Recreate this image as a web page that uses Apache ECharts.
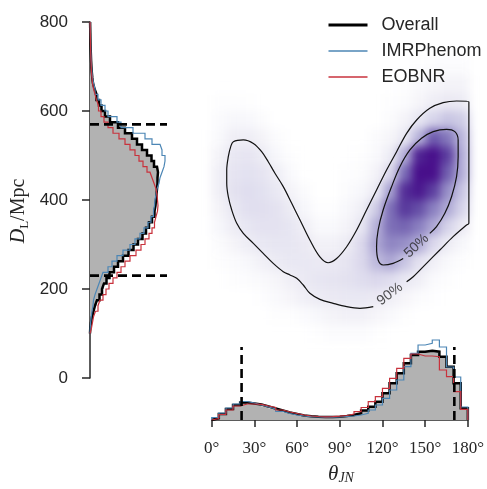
<!DOCTYPE html>
<html><head><meta charset="utf-8">
<script src="https://cdn.jsdelivr.net/npm/echarts@6/dist/echarts.min.js"></script>
<style>
html,body{margin:0;padding:0;background:#fff;}
#wrap{position:relative;width:487px;height:489px;overflow:hidden;}
#bg,#main{position:absolute;left:0;top:0;width:487px;height:489px;}
#bg{filter:blur(5px);}
</style></head><body>
<div id="wrap"><div id="bg"></div><div id="main"></div></div>
<script>
// ---------------- data ----------------
const legendNames = ['Overall', 'IMRPhenom', 'EOBNR'];
const distTicks = [0, 200, 400, 600, 800];
const thetaTicks = [0, 30, 60, 90, 120, 150, 180];

// luminosity distance histogram (bins of 12.5 Mpc from 100 to 800 Mpc)
const distBinEdges = Array.from({length: 57}, (_, i) => 100 + 12.5 * i);
const distOverall = [0.3,1,2,3.5,5,7,9.5,12,14,16.5, 19.5,24,28,33,38.5,43.5,48,52.5,56,59,
  62,64.5,65.5,66,66.5,67,67.5,67.5,68,67, 64,61.5,57,52,47,42,35,28,20,15,
  11.5,9,6.5,4.5, 3,2.3,1.8,1.4,1.1,0.9,0.7,0.5,0.4,0.3,0.2,0.1];
const distIMR = [0.2,0.6,1.2,2,3,3.5,5,7,9,11, 13,18,22,27,33,40,45,50,54,58,
  61,63.5,64.5,65,66,67,69,70,72,74, 75,75,72,70,62,55,43,31,27,18,
  15,11,8,5, 3.5,2.5,2,1.5,1.2,1,0.8,0.6,0.5,0.4,0.3,0.2];
const distEOB = [1.5,2.5,3.5,5.5,8,10,13,16,19,23, 27,31,35,40,46,51,55,59,62,64.5,
  66,67.5,68,67.5,67,66,64,62,60,57, 53,49,45,40,35,29,23,18,14,11,
  8.5,6.5,5,3.5, 2.5,2,1.5,1.2,1,0.8,0.6,0.5,0.4,0.3,0.2,0.1];
const distInterval = [230, 570];

// inclination histogram (bins of 5 degrees)
const thetaBinEdges = Array.from({length: 37}, (_, i) => 5 * i);
const thetaOverall = [1.7,6,11,15,17.5,16.5,15.5,13.5,11.5,9.5,7.5,6,4.5,3.8,3.3,3,3,3.3,
  4,5,6.7,9.5,13.3,18.3,26.7,36.7,46.7,56.7,65,68.3,69.3,68.3,63.3,53.3,36.7,11.7];
const thetaIMR = [2.5,7,12,16,18.5,17,15,13,11,8.5,6.5,5,4,3.3,3,2.8,2.8,3,
  3.5,4,5,6.7,10,15,21.7,30,40,53.3,66.7,75,76.7,80,73,53,43,13];
const thetaEOB = [1.5,5.5,10,14,16,16,15.7,14,12.5,10,8,6.5,5,4,3.5,3.2,3.3,3.8,
  4.5,6,8.3,12.5,18.3,23.3,31.7,41.7,51.7,61.7,66,64,64,63.3,50,43.3,28.3,10.7];
const thetaInterval = [21, 170.5];

// credible-region contours [theta, D]
const contour90 = [[112.9,160.2],[103.6,156.6],[94.3,160.2],[84.9,167.8],[75.6,176.8],[68.6,190.3],
  [64,209],[59.4,224],[54.7,231.5],[50,239],[43,257.7],[36,280],[29.1,302.7],[22.1,325],[17.5,347.6],
  [14,377.5],[11.6,407.4],[10.5,437.5],[10.5,467.4],[11.6,497.3],[13.3,520],[15.1,531],[22.1,535],
  [29.1,527],[34.9,508.6],[39.5,486],[44.2,460],[50,430],[55.9,392.6],[61.7,355],[68.6,310],[75.6,272],
  [81.4,259],[87.3,268.5],[94.3,295],[101.3,332.6],[108.2,377.5],[115.2,422.5],[122.2,467.4],
  [129.2,508.6],[136.2,549.8],[143.2,579.8],[152.4,606],[161.7,618.7],[171.1,622.5],[179.7,621],
  [179.7,347.6],[178.1,343.8],[168.7,317.6],[159.4,287.6],[150.1,257.7],[140.8,227.6],[136.2,216.4]];
const contour50 = [[133.8,268.5],[126.8,257.7],[119.8,253.9],[116.3,265.2],[115.2,295],[116.3,332.6],
  [119.8,377.5],[125.7,430],[131.5,474.8],[138.5,512.4],[146.6,538.6],[154.8,553.6],[164.1,558.8],
  [169.9,553.6],[172.2,534.8],[172.2,497.3],[171.1,452.4],[167.6,407.4],[162.9,370],[157.1,340],[152.4,325]];
const contourLabels = [
  {text: '90%', theta: 124.5, dist: 188.3, angle: 37},
  {text: '50%', theta: 143.1, dist: 296.8, angle: 43}
];

// 2D density (relative), columns = theta centres, rows = distance centres (top to bottom)
const densityTheta = [5,15,25,35,45,55,65,75,85,95,105,115,125,135,145,155,165,175];
const densityDist = [780,740,700,660,620,580,540,500,460,420,380,340,300,260,220,180,140,100,60,20];
const density = [
  [0,0,0,0,0,0,0,0,0,0,0,0,0,0,0,0,0,0],
  [0,0,0,0,0,0,0,0,0,0,0,0,0,0,0,0,0,0],
  [0,0,0,0,0,0,0,0,0,0,0,0,0,0,0.01,0.02,0.02,0.02],
  [0,0,0,0,0,0,0,0,0,0,0,0,0,0.01,0.03,0.05,0.06,0.06],
  [0.01,0.01,0.01,0,0,0,0,0,0,0,0,0,0.01,0.02,0.05,0.09,0.11,0.1],
  [0.02,0.04,0.04,0.02,0,0,0,0,0,0,0,0,0.02,0.06,0.13,0.22,0.28,0.25],
  [0.03,0.08,0.09,0.06,0.02,0,0,0,0,0,0,0.02,0.05,0.12,0.34,0.62,0.52,0.33],
  [0.06,0.12,0.14,0.1,0.04,0.01,0,0,0,0,0.01,0.03,0.09,0.36,0.8,1.0,0.7,0.36],
  [0.08,0.14,0.16,0.14,0.09,0.03,0,0,0,0.01,0.02,0.06,0.2,0.56,0.93,0.9,0.6,0.36],
  [0.08,0.15,0.18,0.16,0.12,0.06,0.02,0,0,0.02,0.04,0.1,0.4,0.76,0.85,0.7,0.45,0.28],
  [0.06,0.12,0.17,0.17,0.15,0.1,0.04,0.01,0.01,0.04,0.08,0.25,0.55,0.72,0.65,0.5,0.37,0.22],
  [0.04,0.09,0.13,0.15,0.15,0.13,0.08,0.03,0.03,0.06,0.13,0.35,0.55,0.58,0.5,0.38,0.22,0.11],
  [0.02,0.05,0.09,0.12,0.13,0.13,0.11,0.07,0.07,0.1,0.2,0.38,0.48,0.45,0.37,0.2,0.09,0.04],
  [0.01,0.02,0.04,0.07,0.1,0.12,0.12,0.11,0.11,0.14,0.2,0.32,0.38,0.28,0.15,0.08,0.03,0.01],
  [0,0.01,0.02,0.03,0.05,0.08,0.11,0.13,0.14,0.15,0.18,0.2,0.18,0.12,0.08,0.03,0.01,0],
  [0,0,0,0.01,0.03,0.05,0.08,0.1,0.11,0.12,0.12,0.11,0.08,0.05,0.02,0.01,0,0],
  [0,0,0,0,0.01,0.01,0.02,0.04,0.06,0.07,0.07,0.05,0.03,0.01,0,0,0,0],
  [0,0,0,0,0,0,0,0.01,0.02,0.02,0.02,0.01,0,0,0,0,0,0],
  [0,0,0,0,0,0,0,0,0,0,0,0,0,0,0,0,0,0],
  [0,0,0,0,0,0,0,0,0,0,0,0,0,0,0,0,0,0]
];

// ---------------- styling ----------------
const INK = '#262626';
const colors = {Overall: '#000000', IMRPhenom: '#4c86b5', EOBNR: '#c8323c'};
const widths = {Overall: 2.5, IMRPhenom: 1.2, EOBNR: 1.2};
const purples = ['#ffffff','#eeedf5','#dfddee','#cbc8e4','#b3aed8','#9890c8','#7f72b9','#6a55aa','#58389c','#4d1f91','#470d8a'];

const G = {left: 211.7, width: 257.6};

// ---------------- background density chart ----------------
const heatData = [];
density.forEach((row, r) => row.forEach((v, c) => heatData.push([c, densityDist.length - 1 - r, v])));
const bg = echarts.init(document.getElementById('bg'), null, {renderer: 'canvas'});
bg.setOption({
  animation: false,
  grid: {left: G.left, top: 22, width: G.width, height: 356},
  xAxis: {type: 'category', data: densityTheta.map(String), show: false},
  yAxis: {type: 'category', data: densityDist.slice().reverse().map(String), show: false},
  visualMap: {show: false, min: 0, max: 0.9, dimension: 2, inRange: {color: purples}},
  series: [{type: 'heatmap', data: heatData, itemStyle: {borderWidth: 0}}]
});

// ---------------- main chart ----------------
function vStep(edges, vals) {
  const pts = [[0, edges[0]]];
  vals.forEach((v, i) => { pts.push([v, edges[i]]); pts.push([v, edges[i + 1]]); });
  pts.push([0, edges[edges.length - 1]]);
  return pts;
}
function hStep(edges, vals) {
  const pts = [[edges[0], 0]];
  vals.forEach((v, i) => { pts.push([edges[i], v]); pts.push([edges[i + 1], v]); });
  pts.push([edges[edges.length - 1], 0]);
  return pts;
}
function fillSeries(pts, xi) {
  return {
    type: 'custom', xAxisIndex: xi, yAxisIndex: xi, silent: true, z: 1,
    data: [[0, 0]],
    renderItem: (params, api) => ({
      type: 'polygon',
      shape: {points: pts.map(p => api.coord(p))},
      style: {fill: '#b2b2b2', stroke: null}
    })
  };
}
function lineSeries(name, pts, xi, z) {
  return {
    type: 'line', name: name, xAxisIndex: xi, yAxisIndex: xi, data: pts,
    symbol: 'none', silent: true, z: z,
    lineStyle: {color: colors[name], width: widths[name], join: 'miter'},
    itemStyle: {color: colors[name]}
  };
}
function dashSeries(pts, xi) {
  return {
    type: 'line', xAxisIndex: xi, yAxisIndex: xi, data: pts, symbol: 'none', silent: true, z: 6,
    lineStyle: {color: '#000', width: 2.6, type: [9, 5]}
  };
}

const distSeries = {Overall: distOverall, IMRPhenom: distIMR, EOBNR: distEOB};
const thetaSeries = {Overall: thetaOverall, IMRPhenom: thetaIMR, EOBNR: thetaEOB};

const series = [];
series.push(fillSeries(vStep(distBinEdges, distOverall), 0));
legendNames.forEach((n, k) => series.push(lineSeries(n, vStep(distBinEdges, distSeries[n]), 0, n === 'Overall' ? 3 : 4 + k)));
distInterval.forEach(d => series.push(dashSeries([[0, d], [77, d]], 0)));

series.push(fillSeries(hStep(thetaBinEdges, thetaOverall), 2));
legendNames.forEach((n, k) => series.push(lineSeries(n, hStep(thetaBinEdges, thetaSeries[n]), 2, n === 'Overall' ? 3 : 4 + k)));
thetaInterval.forEach(t => series.push(dashSeries([[t, 0], [t, 73]], 2)));

[contour90, contour50].forEach(c => series.push({
  type: 'line', xAxisIndex: 1, yAxisIndex: 1, data: c, symbol: 'none', silent: true, smooth: 0.35,
  lineStyle: {color: '#111', width: 1.2}
}));
series.push({
  type: 'scatter', xAxisIndex: 1, yAxisIndex: 1, symbolSize: 0, silent: true,
  data: contourLabels.map(l => ({
    value: [l.theta, l.dist],
    label: {show: true, position: 'inside', formatter: l.text, rotate: l.angle,
      fontFamily: 'Liberation Sans', fontSize: 14, color: INK}
  }))
});

const axisLineStyle = {color: INK, width: 1.5};
const chart = echarts.init(document.getElementById('main'), null, {renderer: 'canvas'});
chart.setOption({
  animation: false,
  backgroundColor: 'transparent',
  grid: [
    {left: 90, top: 22, width: 77, height: 356},
    {left: G.left, top: 22, width: G.width, height: 356},
    {left: G.left, top: 330, width: G.width, height: 90}
  ],
  xAxis: [
    {gridIndex: 0, type: 'value', min: 0, max: 77, show: false},
    {gridIndex: 1, type: 'value', min: 0, max: 180, show: false},
    {gridIndex: 2, type: 'value', min: 0, max: 180, interval: 30, offset: 3,
      axisLine: {show: true, lineStyle: axisLineStyle},
      axisTick: {show: true, length: 7, inside: false, lineStyle: axisLineStyle},
      axisLabel: {show: true, margin: 17, formatter: v => v + '°', color: INK,
        fontFamily: 'Liberation Serif', fontSize: 17},
      splitLine: {show: false}}
  ],
  yAxis: [
    {gridIndex: 0, type: 'value', min: 0, max: 800, interval: 200,
      axisLine: {show: true, lineStyle: axisLineStyle},
      axisTick: {show: true, length: 8, inside: false, lineStyle: axisLineStyle},
      axisLabel: {show: true, margin: 22, color: INK, fontFamily: 'Liberation Sans', fontSize: 17},
      splitLine: {show: false}},
    {gridIndex: 1, type: 'value', min: 0, max: 800, show: false},
    {gridIndex: 2, type: 'value', min: 0, max: 90, show: false}
  ],
  legend: {
    show: true, orient: 'vertical', left: 327, top: 16, padding: 0,
    itemWidth: 39, itemHeight: 14, itemGap: 8,
    selectedMode: false,
    data: legendNames.map(n => ({
      name: n,
      lineStyle: {width: n === 'Overall' ? 3 : 1.3, color: colors[n]},
      itemStyle: {opacity: 0, color: 'rgba(0,0,0,0)', borderWidth: 0}
    })),
    textStyle: {fontFamily: 'Liberation Sans', fontSize: 18, color: INK, padding: [0, 0, 0, 9]}
  },
  graphic: [
    {type: 'text', x: 19, y: 211, rotation: Math.PI / 2, silent: true,
      style: {text: '{d|D}{l|L}{r|/Mpc}', align: 'center', verticalAlign: 'middle',
        textAlign: 'center', textVerticalAlign: 'middle', fill: INK,
        rich: {
          d: {fontFamily: 'Liberation Serif', fontStyle: 'italic', fontSize: 20, lineHeight: 24, fill: INK},
          l: {fontFamily: 'Liberation Serif', fontSize: 13, lineHeight: 13, verticalAlign: 'bottom', fill: INK},
          r: {fontFamily: 'Liberation Serif', fontSize: 20, lineHeight: 24, fill: INK}
        }}},
    {type: 'text', x: 341, y: 474, silent: true,
      style: {text: '{t|θ}{s|JN}', align: 'center', verticalAlign: 'middle',
        textAlign: 'center', textVerticalAlign: 'middle', fill: INK,
        rich: {
          t: {fontFamily: 'Liberation Serif', fontStyle: 'italic', fontSize: 21, lineHeight: 22, fill: INK},
          s: {fontFamily: 'Liberation Serif', fontStyle: 'italic', fontSize: 14, lineHeight: 14, verticalAlign: 'bottom', fill: INK}
        }}}
  ],
  series: series
});
</script>
</body></html>
